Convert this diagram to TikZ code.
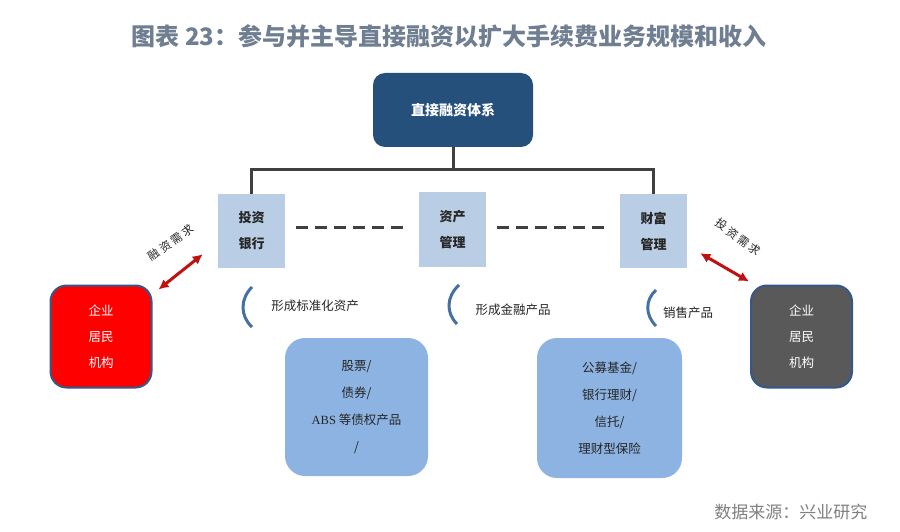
\documentclass[tikz,border=0pt]{standalone}
\usepackage{fontspec}
\setmainfont{Noto Sans CJK SC}
\newfontfamily\latinserif{Liberation Serif}
\usetikzlibrary{arrows.meta}
\definecolor{titlec}{RGB}{112,126,146}
\definecolor{topc}{RGB}{38,80,124}
\definecolor{lightc}{RGB}{185,205,229}
\definecolor{midc}{RGB}{141,179,226}
\definecolor{linec}{RGB}{64,64,64}
\definecolor{arrc}{RGB}{192,16,16}
\definecolor{parc}{RGB}{70,112,162}
\definecolor{bordc}{RGB}{50,88,140}
\definecolor{grayfill}{RGB}{89,89,89}
\definecolor{srcc}{RGB}{128,128,128}
\begin{document}
\begin{tikzpicture}[x=1pt,y=-1pt,
  topbox/.style={rectangle,rounded corners=12pt,fill=topc,text=white,minimum width=160pt,minimum height=74pt,font=\fontsize{14}{16}\selectfont\bfseries,inner sep=0pt},
  unitbox/.style={rectangle,fill=lightc,minimum width=67pt,minimum height=74pt,align=center,font=\fontsize{13}{26}\selectfont\bfseries,text=black!85,inner sep=0pt},
  clientbox/.style={rectangle,rounded corners=16pt,draw=bordc,line width=2pt,minimum width=101pt,minimum height=102pt,align=center,text=white,font=\fontsize{12.5}{26}\selectfont,inner sep=0pt},
  prodbox/.style={rectangle,rounded corners=20pt,fill=midc,align=center,text=black!85,font=\fontsize{12.5}{27}\selectfont,inner sep=0pt},
  conn/.style={draw=linec,line width=3pt},
  dashline/.style={draw=linec,line width=3pt,dash pattern=on 12pt off 7pt},
  redarr/.style={draw=arrc,line width=3pt,{Latex[length=10pt,width=10pt]}-{Latex[length=10pt,width=10pt]}},
  paren/.style={draw=parc,line width=3pt},
  lbl/.style={font=\fontsize{12.5}{14}\selectfont,text=black!85,inner sep=0pt},
  needlbl/.style={font=\fontsize{11.5}{13}\selectfont\addfontfeature{LetterSpace=20},text=black!85,inner sep=0pt}
]
\useasboundingbox (0,0) rectangle (900,532);
\fill[white] (0,0) rectangle (900,532);

\node[font=\fontsize{24}{27}\selectfont\bfseries,text=titlec] (title) at (449,36) {图表 23：参与并主导直接融资以扩大手续费业务规模和收入};

\node[topbox] (top) at (453,110) {直接融资体系};

\node[unitbox] (ib) at (251.5,231) {投资\\银行};
\node[unitbox] (am) at (452.5,229.5) {资产\\管理};
\node[unitbox] (wm) at (653.5,231) {财富\\管理};

\coordinate (j) at (453,170);
\draw[conn] (top.south) -- (j);
\draw[conn] (ib.north) |- (j) -| (wm.north);

\draw[dashline] ([xshift=11pt,yshift=4pt]ib.east) -- ([xshift=-9pt,yshift=2.5pt]am.west);
\draw[dashline] ([xshift=11pt,yshift=2.5pt]am.east) -- ([xshift=-9pt,yshift=4pt]wm.west);

\node[clientbox,fill=red] (lc) at (101,336.5) {企业\\居民\\机构};
\node[clientbox,fill=grayfill] (rc) at (801.5,336.5) {企业\\居民\\机构};

\draw[redarr] ([xshift=6pt,yshift=-5pt]lc.north east) -- ([xshift=-15pt,yshift=14pt]ib.south west);
\draw[redarr] ([xshift=13pt,yshift=15pt]wm.south east) -- ([xshift=-1pt,yshift=3pt]rc.north west);

\node[needlbl,rotate=35] (need1) at (171,243) {融资需求};
\node[needlbl,rotate=-36] (need2) at (738,237) {投资需求};

\draw[paren] (252,287) .. controls (240,299) and (240,316) .. (252,327);
\draw[paren] (459,285) .. controls (446,297) and (446,313) .. (457,324);
\draw[paren] (656,290) .. controls (645,300) and (645,315) .. (656,326);

\node[lbl] (f1) at (315,306) {形成标准化资产};
\node[lbl] (f2) at (513,310) {形成金融产品};
\node[lbl] (f3) at (688,313) {销售产品};

\node[prodbox,minimum width=143pt,minimum height=138pt] (p1) at (356.5,407) {股票/\\债券/\\{\latinserif ABS} 等债权产品\\/};
\node[prodbox,minimum width=145pt,minimum height=140pt] (p2) at (609.5,408) {公募基金/\\银行理财/\\信托/\\理财型保险};

\node[font=\fontsize{17}{19}\selectfont,text=srcc,anchor=east] (src) at (871,512) {数据来源：兴业研究};
\end{tikzpicture}
\end{document}
